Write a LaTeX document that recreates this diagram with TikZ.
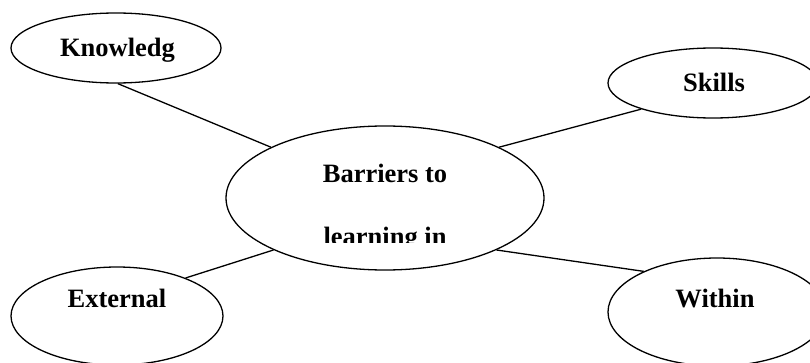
\documentclass[tikz,border=0pt]{standalone}
\usepackage{fontspec}
\setmainfont{Liberation Serif}
\usetikzlibrary{shapes.geometric}

\begin{document}
\begin{tikzpicture}[
      x=1pt, y=1pt,
      font=\fontsize{26.5}{30}\selectfont\bfseries,
      bubble/.style={draw, ellipse, line width=1.3pt, inner sep=0pt},
      word/.style={anchor=base, inner sep=0pt},
      spoke/.style={line width=1.3pt}
    ]
    \useasboundingbox (0,0) rectangle (810,362);
    \clip (0,0) rectangle (810,362);
    % the hub and the four topics round it
    \node[bubble, minimum width=318pt, minimum height=144pt] (barriers) at (385,164) {};
    \node[bubble, minimum width=210pt, minimum height=70pt] (knowledge) at (116,314) {};
    \node[bubble, minimum width=210pt, minimum height=70pt] (skills) at (713,279) {};
    \node[bubble, minimum width=212pt, minimum height=98pt] (external) at (117,46) {};
    \node[bubble, minimum width=218pt, minimum height=108pt] (within) at (717,50) {};
    % labels
    \node[word] (knowledge-text) at (117.5,305) {Knowledg};
    \node[word] (skills-text) at (714,270) {Skills};
    \node[word] (external-text) at (117,55) {External};
    \node[word] (within-text) at (715,55) {Within};
    \node[word] (barriers-text) at (385,180) {Barriers to};
    \begin{scope}
      \clip (200,120) rectangle (570,200);
      \node[word] (barriers-text2) at (385,117) {learning in};
    \end{scope}
    % spokes
    \draw[spoke] (knowledge.273) -- (barriers.156);
    \draw[spoke] (skills.200) -- (barriers.24);
    \draw[spoke] (external.29) -- (barriers.205);
    \draw[spoke] (within.151) -- (barriers.335);
  \end{tikzpicture}
\end{document}
